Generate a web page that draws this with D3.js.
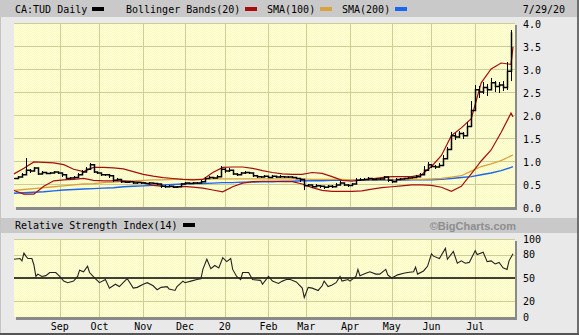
<!DOCTYPE html>
<html>
<head>
<meta charset="utf-8">
<title>CA:TUD Daily</title>
<script src="https://cdnjs.cloudflare.com/ajax/libs/d3/7.8.5/d3.min.js"></script>
<style>
  body { margin:0; background:#e9e9e9; }
  svg text { font-family:"DejaVu Sans Mono", monospace; font-size:10px; fill:#000; }
</style>
</head>
<body>
<svg id="chart" width="579" height="335"></svg>
<script>
// x axis is trading-day index: 0 = Jul 30 2019 ... 251 = Jul 29 2020
var monthNames = ["Sep","Oct","Nov","Dec","20","Feb","Mar","Apr","May","Jun","Jul"];
var monthDays  = [23,43,65,86,106,128,147,169,190,210,232];
var priceTicks = [0,0.5,1,1.5,2,2.5,3,3.5,4];
var rsiTicks   = [0,20,50,80,100];

// daily bars sampled every 2 trading days (day 0,2,...,250)
var priceClose = [0.62,0.65,0.70,0.80,0.78,0.85,0.72,0.75,0.73,0.74,
  0.76,0.74,0.70,0.62,0.63,0.64,0.70,0.76,0.82,0.92,
  0.76,0.74,0.70,0.70,0.68,0.58,0.60,0.55,0.54,0.55,
  0.52,0.53,0.52,0.51,0.52,0.51,0.50,0.45,0.44,0.45,
  0.43,0.44,0.50,0.52,0.51,0.52,0.52,0.55,0.62,0.64,
  0.63,0.66,0.82,0.78,0.80,0.72,0.70,0.74,0.75,0.74,
  0.68,0.66,0.65,0.67,0.64,0.67,0.65,0.66,0.65,0.65,
  0.64,0.62,0.60,0.46,0.48,0.44,0.46,0.45,0.43,0.45,
  0.44,0.48,0.52,0.48,0.47,0.50,0.58,0.59,0.60,0.62,
  0.60,0.61,0.61,0.65,0.58,0.55,0.60,0.61,0.62,0.63,
  0.64,0.66,0.70,0.80,0.92,0.88,0.87,0.90,1.05,1.25,
  1.55,1.52,1.60,1.55,1.75,2.10,2.55,2.50,2.60,2.55,
  2.70,2.62,2.65,2.60,2.95,3.80];
var priceLo = [0.60,0.62,0.66,0.72,0.74,0.78,0.70,0.72,0.71,0.72,
  0.73,0.72,0.66,0.60,0.61,0.62,0.67,0.73,0.78,0.84,
  0.73,0.71,0.68,0.67,0.64,0.55,0.57,0.53,0.52,0.53,
  0.50,0.51,0.50,0.49,0.50,0.49,0.48,0.42,0.42,0.43,
  0.41,0.42,0.46,0.50,0.49,0.50,0.50,0.52,0.58,0.61,
  0.61,0.63,0.74,0.75,0.77,0.70,0.68,0.71,0.72,0.72,
  0.66,0.64,0.63,0.65,0.62,0.64,0.63,0.64,0.63,0.63,
  0.62,0.60,0.55,0.38,0.45,0.41,0.43,0.42,0.40,0.42,
  0.41,0.44,0.48,0.46,0.44,0.47,0.52,0.56,0.58,0.60,
  0.58,0.59,0.59,0.61,0.55,0.52,0.57,0.59,0.60,0.61,
  0.62,0.64,0.67,0.74,0.86,0.84,0.83,0.86,0.98,1.12,
  1.45,1.45,1.50,1.48,1.60,1.90,2.40,2.38,2.45,2.42,
  2.55,2.50,2.48,2.52,2.55,2.75];
var priceHi = [0.64,0.68,0.74,1.07,0.82,0.88,0.78,0.78,0.76,0.77,
  0.78,0.77,0.73,0.66,0.65,0.67,0.73,0.80,0.86,0.96,
  0.80,0.77,0.73,0.72,0.71,0.62,0.62,0.58,0.56,0.57,
  0.54,0.55,0.54,0.53,0.54,0.53,0.52,0.48,0.47,0.47,
  0.45,0.46,0.52,0.54,0.53,0.54,0.54,0.58,0.65,0.67,
  0.66,0.70,0.89,0.84,0.84,0.76,0.73,0.77,0.78,0.77,
  0.72,0.69,0.68,0.70,0.67,0.70,0.68,0.69,0.68,0.68,
  0.67,0.65,0.63,0.58,0.51,0.48,0.49,0.48,0.46,0.48,
  0.47,0.52,0.56,0.52,0.50,0.53,0.62,0.62,0.63,0.65,
  0.63,0.63,0.64,0.68,0.62,0.59,0.62,0.63,0.64,0.65,
  0.66,0.69,0.75,0.90,0.98,0.94,0.91,0.95,1.12,1.30,
  1.62,1.60,1.66,1.62,1.85,2.30,2.65,2.62,2.72,2.68,
  2.80,2.75,2.72,2.74,3.15,3.85];

// overlays sampled every 5 trading days
var lineDays = [0,5,10,15,20,25,30,35,40,45,50,55,60,65,70,75,80,85,90,95,
  100,105,110,115,120,125,130,135,140,145,150,155,160,165,170,175,180,185,190,195,
  200,205,210,215,220,225,230,235,240,245,250,251];
var bbUpper = [0.72,0.84,0.98,0.97,0.96,0.92,0.82,0.77,0.86,0.86,
  0.85,0.83,0.77,0.71,0.67,0.64,0.62,0.60,0.59,0.60,
  0.75,0.86,0.87,0.87,0.84,0.79,0.75,0.72,0.71,0.71,
  0.75,0.73,0.66,0.58,0.56,0.59,0.61,0.64,0.66,0.66,
  0.66,0.70,0.88,1.12,1.55,1.72,1.92,2.70,3.00,3.13,
  3.10,3.48];
var bbLower = [0.36,0.28,0.28,0.45,0.57,0.59,0.60,0.62,0.58,0.57,
  0.57,0.57,0.55,0.53,0.47,0.45,0.44,0.45,0.43,0.41,
  0.37,0.33,0.44,0.52,0.55,0.56,0.56,0.55,0.55,0.50,
  0.42,0.36,0.34,0.34,0.34,0.35,0.39,0.42,0.44,0.46,
  0.48,0.48,0.47,0.43,0.34,0.45,0.72,1.00,1.24,1.62,
  2.04,1.96];
var sma100 = [0.36,0.38,0.40,0.42,0.44,0.46,0.48,0.50,0.51,0.53,
  0.54,0.56,0.57,0.58,0.59,0.59,0.60,0.60,0.60,0.60,
  0.61,0.61,0.61,0.61,0.61,0.61,0.61,0.61,0.61,0.61,
  0.60,0.60,0.60,0.60,0.59,0.59,0.59,0.59,0.59,0.59,
  0.60,0.60,0.61,0.62,0.65,0.68,0.78,0.88,0.94,1.01,
  1.11,1.13];
var sma200 = [0.30,0.31,0.32,0.33,0.35,0.37,0.38,0.39,0.40,0.41,
  0.42,0.44,0.45,0.46,0.47,0.48,0.49,0.50,0.51,0.51,
  0.52,0.53,0.53,0.54,0.54,0.55,0.55,0.56,0.56,0.57,
  0.57,0.57,0.58,0.58,0.58,0.58,0.58,0.58,0.58,0.58,
  0.59,0.59,0.59,0.60,0.62,0.64,0.66,0.70,0.74,0.79,
  0.86,0.88];

// RSI(14)
var rsiDays = [0,3,4,5,6,7,9,10,11,12,14,16,18,21,23,25,27,30,32,33,35,37,38,41,43,46,48,51,53,56,57,
  60,62,65,67,70,72,74,77,78,81,82,85,86,89,92,94,95,97,99,101,103,105,107,109,110,112,114,115,118,
  120,124,125,128,130,133,135,137,139,142,145,146,148,150,153,155,156,158,160,162,164,165,168,169,
  172,173,174,177,179,182,184,187,188,190,193,196,198,201,202,203,206,208,210,211,214,217,218,221,
  223,225,227,229,232,233,236,238,240,242,244,246,248,249,251];
var rsiVals = [74,75,72,82,78,75,75,67,52,55,52,53,57,57,52,46,44,46,52,60,58,65,57,49,44,48,37,42,39,47,49,
  37,38,42,44,40,35,38,39,36,34,39,46,44,46,48,49,61,74,62,66,63,76,71,75,61,52,48,57,57,
  48,47,42,52,46,43,46,48,48,45,37,25,38,37,34,40,46,39,41,44,52,46,48,46,
  52,61,53,56,58,55,55,61,54,50,54,56,57,58,64,55,59,65,81,78,75,88,74,84,
  69,72,69,70,85,80,83,71,72,68,70,63,61,72,81];

var svg = d3.select("#chart");
var x  = d3.scaleLinear().domain([0,251]).range([14,513]);
var yP = d3.scaleLinear().domain([0,4]).range([207,23]);
var yR = d3.scaleLinear().domain([0,100]).range([317,239]);
var left = 14, right = 515;

// frame + title bars
svg.append("rect").attr("x",0).attr("y",0).attr("width",579).attr("height",335).attr("fill","#e9e9e9");
svg.append("rect").attr("x",0).attr("y",0).attr("width",579).attr("height",17).attr("fill","#c9c9c9");
svg.append("rect").attr("x",1).attr("y",218).attr("width",578).attr("height",15).attr("fill","#c9c9c9");
svg.append("rect").attr("x",0).attr("y",17).attr("width",1).attr("height",318).attr("fill","#c4c4c4");
svg.append("rect").attr("x",577).attr("y",0).attr("width",2).attr("height",335).attr("fill","#6e6e6e");
svg.append("rect").attr("x",0).attr("y",333).attr("width",579).attr("height",2).attr("fill","#555");

// dithered yellow plot fill
var pat = svg.append("defs").append("pattern").attr("id","dither")
  .attr("width",2).attr("height",2).attr("patternUnits","userSpaceOnUse");
pat.append("rect").attr("width",2).attr("height",2).attr("fill","#ffffe2");
pat.append("rect").attr("x",0).attr("y",0).attr("width",1).attr("height",1).attr("fill","#f9f9b8");
pat.append("rect").attr("x",1).attr("y",1).attr("width",1).attr("height",1).attr("fill","#f9f9b8");

function panel(yTop, yBot) {
  svg.append("rect").attr("x",left+2).attr("y",yTop+2).attr("width",right-left).attr("height",yBot-yTop+1)
    .attr("fill","#8a8a8a");
  svg.append("rect").attr("x",left).attr("y",yTop).attr("width",right-left).attr("height",yBot-yTop)
    .attr("fill","url(#dither)");
}
panel(23,207);
panel(239,317);

var grid = svg.append("g").attr("stroke","#cdcd96").attr("stroke-width",1).attr("shape-rendering","crispEdges");
grid.selectAll(".vp").data(monthDays).join("line")
  .attr("x1",d => Math.round(x(d))+0.5).attr("x2",d => Math.round(x(d))+0.5).attr("y1",23).attr("y2",207);
grid.selectAll(".hp").data(priceTicks.filter(t => t > 0)).join("line")
  .attr("x1",left).attr("x2",right).attr("y1",d => Math.round(yP(d))+0.5).attr("y2",d => Math.round(yP(d))+0.5);
var grid2 = svg.append("g").attr("stroke","#cdcd96").attr("stroke-width",1).attr("shape-rendering","crispEdges");
grid2.selectAll("line.v").data(monthDays).join("line").attr("class","v")
  .attr("x1",d => Math.round(x(d))+0.5).attr("x2",d => Math.round(x(d))+0.5).attr("y1",239).attr("y2",317);
grid2.selectAll("line.h").data([20,80,100]).join("line").attr("class","h")
  .attr("x1",left).attr("x2",right).attr("y1",d => Math.round(yR(d))+0.5).attr("y2",d => Math.round(yR(d))+0.5);

// overlays
function overlay(vals, color, w) {
  var line = d3.line().x((d,i) => x(lineDays[i])).y(d => yP(d));
  svg.append("path").datum(vals).attr("d",line).attr("fill","none")
    .attr("stroke",color).attr("stroke-width",w);
}
overlay(sma200,"#1a66f0",1.4);
overlay(sma100,"#d9a23c",1.3);
overlay(bbUpper,"#a80d0d",1.2);
overlay(bbLower,"#a80d0d",1.2);

// price bars
var pdays = priceClose.map((d,i) => i*2);
var pg = svg.append("g").attr("stroke","#000").attr("shape-rendering","crispEdges");
pg.selectAll("line").data(priceClose).join("line")
  .attr("x1",(d,i) => Math.round(x(pdays[i]))+0.5).attr("x2",(d,i) => Math.round(x(pdays[i]))+0.5)
  .attr("y1",(d,i) => yP(priceHi[i])).attr("y2",(d,i) => yP(priceLo[i])).attr("stroke-width",1.3);
svg.append("path").datum(priceClose)
  .attr("d", d3.line().x((d,i) => Math.round(x(pdays[i]))+0.5).y(d => yP(d)).curve(d3.curveStepAfter))
  .attr("fill","none").attr("stroke","#000").attr("stroke-width",1.5);

// RSI
svg.append("line").attr("x1",left).attr("x2",right).attr("y1",yR(50)).attr("y2",yR(50))
  .attr("stroke","#000").attr("stroke-width",1.5);
svg.append("path").datum(rsiVals)
  .attr("d", d3.line().x((d,i) => x(rsiDays[i])).y(d => yR(d)))
  .attr("fill","none").attr("stroke","#222").attr("stroke-width",1.1);

// axis labels
svg.selectAll("text.py").data(priceTicks).join("text").attr("class","py")
  .attr("x",523).attr("y",d => yP(d)+4.5).text(d => d.toFixed(1));
svg.selectAll("text.ry").data(rsiTicks).join("text").attr("class","ry")
  .attr("x",523).attr("y",d => yR(d)+3.6).text(d => d);
svg.selectAll("text.mo").data(monthNames).join("text").attr("class","mo")
  .attr("x",(d,i) => x(monthDays[i])).attr("y",329.5).attr("text-anchor","middle").text(d => d);

// legends
function legend(items, y, swY) {
  items.forEach(function(it) {
    var t = svg.append("text").attr("x",it.x).attr("y",y).text(it.label);
    if (it.color) {
      var w = t.node().getComputedTextLength();
      svg.append("rect").attr("x",Math.round(it.x+w+5)).attr("y",swY).attr("width",12).attr("height",4)
        .attr("fill",it.color);
    }
  });
}
legend([
  {x:15,  label:"CA:TUD Daily", color:"#000"},
  {x:126, label:"Bollinger Bands(20)", color:"#a80d0d"},
  {x:267, label:"SMA(100)", color:"#d9a23c"},
  {x:342, label:"SMA(200)", color:"#1a66f0"}
], 13, 7);
svg.append("text").attr("x",565).attr("y",13).attr("text-anchor","end").text("7/29/20");
legend([{x:15, label:"Relative Strength Index(14)", color:"#000"}], 229, 223);
svg.append("text").attr("x",516).attr("y",229.5).attr("text-anchor","end")
  .style("font-family","'Liberation Sans', Arial, sans-serif").style("font-weight","bold")
  .style("font-size","11px").style("fill","#8e8e8e").text("\u00A9BigCharts.com");
</script>
</body>
</html>
